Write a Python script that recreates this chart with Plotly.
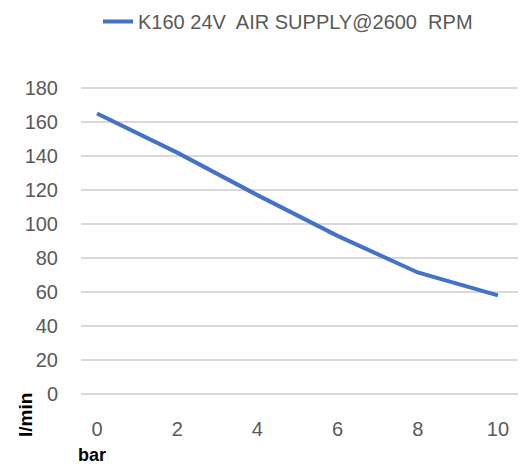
import plotly.graph_objects as go

pressure_bar = [0, 2, 4, 6, 8, 10]
flow_lpm = [165, 142, 117, 93, 71.5, 58]
series_name = "K160 24V  AIR SUPPLY@2600  RPM"
y_ticks = [0, 20, 40, 60, 80, 100, 120, 140, 160, 180]
x_ticks = [0, 2, 4, 6, 8, 10]

W, H = 523, 466
fig = go.Figure()
fig.add_trace(go.Scatter(
    x=pressure_bar, y=flow_lpm, mode="lines", name=series_name,
    line=dict(color="#4472C4", width=4),
))

tick_font = dict(family="Liberation Sans, Arial, sans-serif", size=20, color="#595959")
fig.update_layout(
    width=W, height=H,
    margin=dict(l=81, r=5, t=87, b=71),
    paper_bgcolor="white", plot_bgcolor="white",
    showlegend=True,
    legend=dict(
        orientation="h", xref="container", yref="container",
        x=98 / W, y=1 - 2 / H, xanchor="left", yanchor="top",
        font=dict(family="Liberation Sans, Arial, sans-serif", size=20, color="#595959"),
        bgcolor="rgba(0,0,0,0)",
    ),
    xaxis=dict(
        range=[-0.4, 10.5], tickvals=x_ticks, ticktext=[str(v) for v in x_ticks],
        showgrid=False, zeroline=False, showline=False,
        tickfont=tick_font, ticklabelstandoff=20, fixedrange=True,
    ),
    yaxis=dict(
        range=[-0.6, 180.6], tickvals=y_ticks, ticktext=[str(v) for v in y_ticks],
        showgrid=True, gridcolor="#D9D9D9", gridwidth=2,
        zeroline=False, showline=False,
        tickfont=tick_font, ticklabelstandoff=22, fixedrange=True,
    ),
    annotations=[
        dict(text="<b>l/min</b>", xref="paper", yref="paper",
             x=-56 / 437, y=-20 / 308, textangle=-90, showarrow=False,
             xanchor="center", yanchor="middle",
             font=dict(family="Liberation Sans, Arial, sans-serif", size=19, color="#000000")),
        dict(text="<b>bar</b>", xref="paper", yref="paper",
             x=11 / 437, y=-60 / 308, showarrow=False,
             xanchor="center", yanchor="middle",
             font=dict(family="Liberation Sans, Arial, sans-serif", size=18, color="#000000")),
    ],
)

fig.write_html("out.html", config={"displayModeBar": False},
               post_script="document.body.style.margin='0px';")
